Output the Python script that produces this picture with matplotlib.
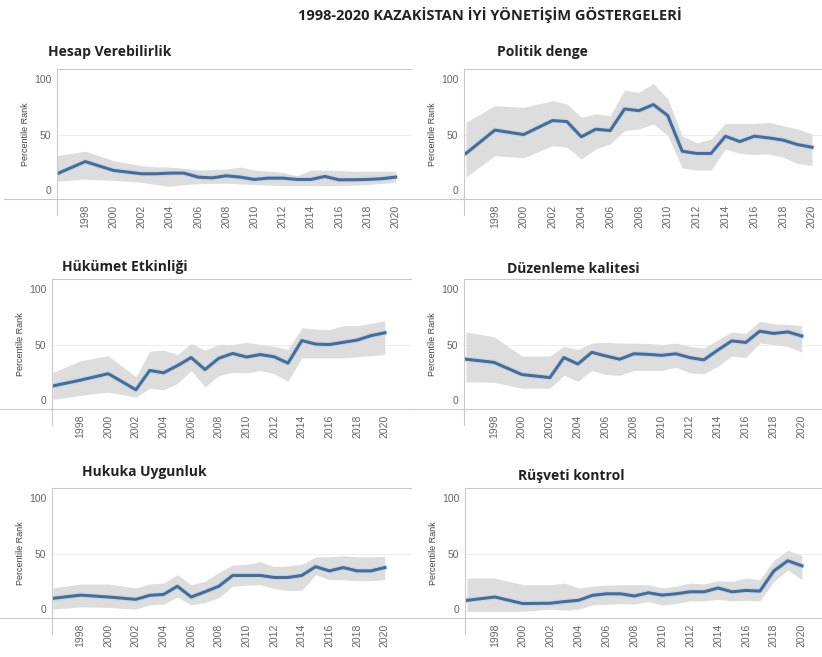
import matplotlib.pyplot as plt
from matplotlib.lines import Line2D

# WGI years (1997, 1999, 2001 missing)
years = [1996, 1998, 2000, 2002, 2003, 2004, 2005, 2006, 2007, 2008, 2009,
         2010, 2011, 2012, 2013, 2014, 2015, 2016, 2017, 2018, 2019, 2020]

main_title = "1998-2020 KAZAKİSTAN İYİ YÖNETİŞİM GÖSTERGELERİ"
titles = ["Hesap Verebilirlik", "Politik denge", "Hükümet Etkinliği",
          "Düzenleme kalitesi", "Hukuka Uygunluk", "Rüşveti kontrol"]
xticks = [1998, 2000, 2002, 2004, 2006, 2008, 2010, 2012, 2014, 2016, 2018, 2020]
yticks = [0, 50, 100]

# percentile rank, lower and upper bound of the 90% interval
hesap = [14.7, 25.7, 17.7, 14.7, 14.7, 15.3, 15.3, 11.7, 11.0, 12.9, 11.7,
         9.6, 10.8, 10.8, 9.6, 9.6, 12.3, 9.3, 9.3, 9.6, 10.2, 11.7]
hesap_lo = [8, 10, 8.7, 7, 5, 3.3, 5, 5.7, 6, 6.3, 5.5,
            5, 4.5, 4, 4, 4, 4, 4, 4.5, 5, 6, 7]
hesap_hi = [31, 35, 26.6, 22, 21, 20.7, 19.8, 18, 18.5, 19, 20.7,
            18, 17, 16, 13, 18, 18, 17.7, 17, 17, 17, 17]

politik = [33, 54, 50, 62.6, 61.7, 48, 54.8, 53.6, 73, 71.5, 77,
           67, 35, 33, 33, 48.5, 43.7, 48.5, 47, 45, 41, 38.6]
politik_lo = [11.7, 31, 29, 40, 38.6, 28, 37, 41.6, 53.6, 55, 59.6,
              49, 20, 18, 18, 37, 33, 32, 32.6, 29.6, 24, 22]
politik_hi = [61, 76, 74.5, 80.5, 77.5, 65.6, 68.6, 67, 90, 88, 96,
              82, 49, 42.5, 46, 60, 60, 60, 61, 58, 55, 50.6]

hukumet = [12.8, 18, 23.8, 9.3, 26.7, 24.6, 31, 38.3, 27.5, 37.7, 42,
           38.8, 41, 39, 33.3, 53.6, 50.4, 50, 52, 54, 58, 60.6]
hukumet_lo = [0.6, 4.3, 7.2, 2.6, 10.7, 9.3, 15, 26.7, 12, 22, 25,
              24.6, 26.7, 23.8, 17, 38, 38, 38, 38, 39, 40, 41]
hukumet_hi = [25, 35.4, 40, 20.9, 44, 45, 41, 51, 45, 50, 50,
              52, 50, 48.4, 45.5, 65, 64, 63.5, 67, 67, 69, 71.6]

duzenleme = [36.8, 34, 23, 20.3, 38.3, 32.5, 43, 39.7, 36.8, 41.7, 41.2,
             40.3, 41.7, 38.3, 36.2, 45, 53.3, 51.9, 62, 60, 61.4, 57.7]
duzenleme_lo = [16.5, 16, 10.7, 10.7, 22.3, 17, 26.7, 23, 22.3, 26.7, 26.7,
                26.7, 29.6, 24.6, 23.8, 30.4, 39.7, 38.3, 51.3, 50, 48.4, 43.2]
duzenleme_hi = [61.4, 57, 39.7, 39.7, 48.4, 45.5, 51.3, 52, 51.3, 51.3, 51,
                50, 51.3, 48.4, 47, 54, 61.4, 60, 71, 68.7, 68, 67.2]

hukuk = [9.7, 12.6, 10.9, 8.8, 12.4, 13.2, 20.6, 10.9, 15.6, 20.6, 30.3,
         30.3, 30.3, 28.5, 28.5, 30.3, 38.2, 34.4, 37.4, 34.4, 34.4, 37.4]
hukuk_lo = [0, 2, 1.5, 0, 3.8, 4.4, 10.9, 3.8, 5.9, 10.3, 20.6,
            21.5, 22, 18.5, 16.8, 16.8, 31, 26.5, 26.5, 25.6, 25.6, 26.5]
hukuk_hi = [19, 22.6, 22.6, 19, 22.6, 23.5, 31, 22, 25, 33, 39.7,
            40.3, 42.6, 38.2, 39, 40.3, 47, 47, 48, 47, 47, 47.6]

rusvet = [7.9, 10.9, 5, 5.3, 6.8, 7.9, 12.4, 13.8, 13.8, 11.8, 14.7,
          12.6, 13.8, 15.6, 15.6, 19, 15.6, 16.8, 16.2, 34.4, 43.5, 39]
rusvet_lo = [-2, -2, -2, 0, -1, 0, 3.8, 4.4, 5, 4.4, 6.8,
             3.8, 5, 7.4, 7.4, 8.8, 7.4, 7.9, 7.4, 25, 35.3, 26.5]
rusvet_hi = [28, 28, 22, 22, 23.5, 19, 20.6, 21.5, 22, 22, 22,
             19, 20.6, 23.5, 22.6, 25.6, 25, 28, 26.5, 44, 53, 48.5]

series = [(hesap, hesap_lo, hesap_hi), (politik, politik_lo, politik_hi),
          (hukumet, hukumet_lo, hukumet_hi), (duzenleme, duzenleme_lo, duzenleme_hi),
          (hukuk, hukuk_lo, hukuk_hi), (rusvet, rusvet_lo, rusvet_hi)]

W, H = 822, 657
# pane boxes in pixels: left, top, right, bottom, x range
boxes = [(57, 69, 411, 199, 1996.0, 2021.1), (464, 69, 822, 199, 1995.86, 2020.7),
         (52, 279, 411, 409, 1995.93, 2021.9), (464, 279, 822, 409, 1995.86, 2021.45),
         (52, 488, 411, 618, 1995.93, 2021.9), (465, 488, 822, 618, 1995.86, 2021.45)]
title_pos = [(48, 52), (497, 52), (62, 267), (507, 269), (82, 472), (518, 476)]

plt.rcParams['font.family'] = ['Open Sans', 'DejaVu Sans']
fig = plt.figure(figsize=(W / 100, H / 100), dpi=100)
fig.patch.set_facecolor('white')

fig.text(490 / W, 1 - 15 / H, main_title, ha='center', va='center',
         fontsize=10.5, fontweight='bold', color='#222222')

line_col = '#4b6b90'
grey = '#c9c9c9'
for i, (vals, lo, hi) in enumerate(series):
    l, t, r, b, x0, x1 = boxes[i]
    ax = fig.add_axes([l / W, 1 - b / H, (r - l) / W, (b - t) / H])
    ax.fill_between(years, lo, hi, color='#dddddd', lw=0)
    ax.plot(years, vals, color='#c4d8ee', lw=4.0, solid_capstyle='round')
    ax.plot(years, vals, color=line_col, lw=2.2, solid_joinstyle='round')
    ax.set_xlim(x0, x1)
    ax.set_ylim(-8, 109)
    ax.axhline(50, color='#eeeeee', lw=0.8, zorder=0)
    ax.set_xticks(xticks)
    ax.set_xticklabels([str(y) for y in xticks], rotation=90, fontsize=7.5,
                       color='#666666', family='Liberation Sans')
    ax.set_yticks(yticks)
    ax.set_yticklabels([str(v) for v in yticks], fontsize=7.5, color='#666666',
                       family='Liberation Sans')
    ax.tick_params(length=0, pad=4)
    ax.set_ylabel('Percentile Rank', fontsize=6.5, color='#444444',
                  family='Liberation Sans', labelpad=3)
    ax.spines['right'].set_visible(False)
    for s in ['top', 'bottom', 'left']:
        ax.spines[s].set_color(grey)
        ax.spines[s].set_linewidth(0.8)
    # bottom rule runs under the axis header, left rule through the tick area
    ax.add_line(Line2D([-0.15, 0], [0, 0], transform=ax.transAxes, color=grey,
                       lw=0.8, clip_on=False))
    ax.add_line(Line2D([0, 0], [-0.12, 0], transform=ax.transAxes, color=grey,
                       lw=0.8, clip_on=False))
    tx, ty = title_pos[i]
    fig.text(tx / W, 1 - ty / H, titles[i], ha='left', va='center',
             fontsize=10, fontweight='bold', color='#222222')

fig.savefig('out.png', dpi=100, facecolor='white')
